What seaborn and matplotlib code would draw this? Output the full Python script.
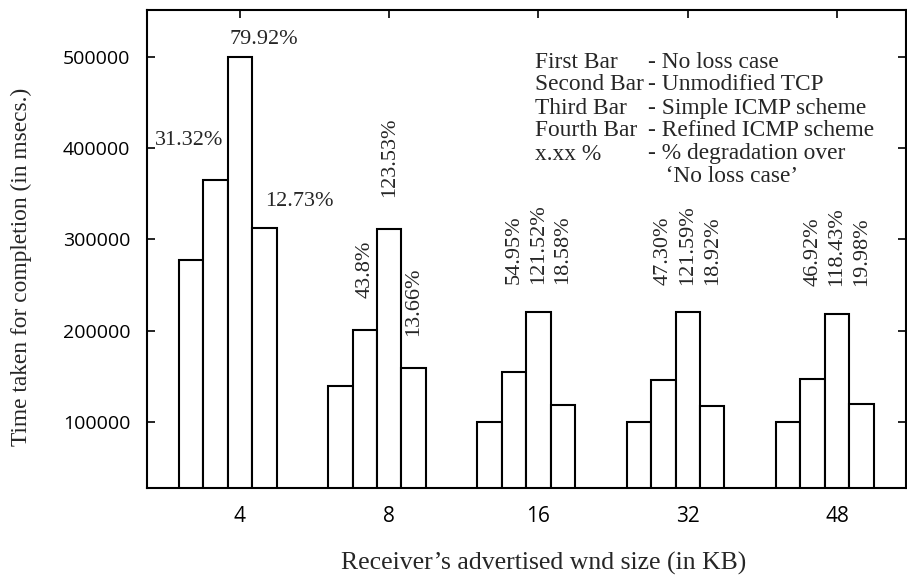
"""Completion time vs receiver window size for four TCP loss-recovery variants."""
import matplotlib
matplotlib.use("Agg")
import matplotlib.pyplot as plt
import pandas as pd
import seaborn as sns

WND_SIZES = ["4", "8", "16", "32", "48"]
SCHEMES = ["No loss case", "Unmodified TCP", "Simple ICMP scheme", "Refined ICMP scheme"]

# time taken for completion (msecs)
NO_LOSS = [278000, 140000, 100500, 99500, 100300]
UNMODIFIED = [365000, 201000, 155000, 146500, 147000]
SIMPLE_ICMP = [500000, 312000, 221000, 220000, 218500]
REFINED_ICMP = [313000, 159000, 118500, 117800, 120000]

# % degradation over the no loss case
UNMOD_PCT = ["31.32%", "43.8%", "54.95%", "47.30%", "46.92%"]
SIMPLE_PCT = ["79.92%", "123.53%", "121.52%", "121.59%", "118.43%"]
REFINED_PCT = ["12.73%", "13.66%", "18.58%", "18.92%", "19.98%"]

LEGEND_LEFT = ["First Bar", "Second Bar", "Third Bar", "Fourth Bar", "x.xx %", ""]
LEGEND_RIGHT = ["- No loss case", "- Unmodified TCP", "- Simple ICMP scheme",
                "- Refined ICMP scheme", "- % degradation over", "   \u2018No loss case\u2019"]

Y_TICKS = [100000, 200000, 300000, 400000, 500000]

SERIF = ["Liberation Serif", "DejaVu Serif"]
TICK_FONT = "Open Sans"

rows = []
for scheme, vals in zip(SCHEMES, [NO_LOSS, UNMODIFIED, SIMPLE_ICMP, REFINED_ICMP]):
    for size, v in zip(WND_SIZES, vals):
        rows.append({"size": size, "scheme": scheme, "time": v})
df = pd.DataFrame(rows)

sns.set_theme(style="ticks")
plt.rcParams["font.family"] = SERIF

GROUP_W = 0.654
bar_w = GROUP_W / len(SCHEMES)

fig = plt.figure(figsize=(9.07, 5.81), dpi=100)
ax = fig.add_axes([0.162, 0.160, 0.837, 0.823])

sns.barplot(data=df, x="size", y="time", hue="scheme", order=WND_SIZES,
            hue_order=SCHEMES, palette=["white"] * 4, saturation=1,
            edgecolor="black", linewidth=1.5, width=GROUP_W, gap=0,
            errorbar=None, legend=False, ax=ax)

ax.set_ylim(27700, 551500)
ax.set_xlim(-0.541, 4.544)
ax.set_yticks(Y_TICKS)
ax.set_yticklabels([str(t) for t in Y_TICKS], fontfamily=TICK_FONT, fontsize=14)
# tick sits on the third bar of each group
ax.set_xticks([i + 0.5 * bar_w for i in range(len(WND_SIZES))])
ax.set_xticklabels(WND_SIZES, fontfamily=TICK_FONT, fontsize=15)
ax.tick_params(direction="in", length=6, width=1.2, top=True, right=True,
               colors="black")
ax.tick_params(axis="y", pad=12)
ax.tick_params(axis="x", pad=13)
ax.set_xlabel("")
ax.set_ylabel("")
for sp in ax.spines.values():
    sp.set_visible(True)
    sp.set_linewidth(1.5)
    sp.set_color("black")

# percentage labels
pct_sets = {1: UNMOD_PCT, 2: SIMPLE_PCT, 3: REFINED_PCT}
first_group_offsets = {1: (-26, 40), 2: (24, 17), 3: (35, 26)}  # pixels
for k, pcts in pct_sets.items():
    for i, bar in enumerate(ax.containers[k]):
        x = bar.get_x() + bar.get_width() / 2
        h = bar.get_height()
        if i == 0:
            dx, dy = first_group_offsets[k]
            ax.annotate(pcts[i], xy=(x, h), xytext=(dx, dy), textcoords="offset pixels",
                        ha="center", va="center", fontsize=16)
        else:
            if i == 1:
                y = h + 35000
            else:
                y = max(c[i].get_height() for c in ax.containers) + 30000
            ax.text(x, y, pcts[i], rotation=90, ha="center", va="bottom", fontsize=16)

# text legend in the upper right
line_y = [62, 85, 108, 131, 154, 177]
for yl, left, right in zip(line_y, LEGEND_LEFT, LEGEND_RIGHT):
    fy = 1 - yl / 581
    fig.text(535 / 907, fy, left, ha="left", va="center", fontsize=16.8)
    fig.text(648 / 907, fy, right, ha="left", va="center", fontsize=16.8)

fig.text(0.024, 0.540, "Time taken for completion (in msecs.)", rotation=90,
         ha="center", va="center", fontsize=16.8)
fig.text(0.599, 0.031, "Receiver\u2019s advertised wnd size (in KB)",
         ha="center", va="center", fontsize=18.5)

fig.savefig("out.png", dpi=100, facecolor="white")
